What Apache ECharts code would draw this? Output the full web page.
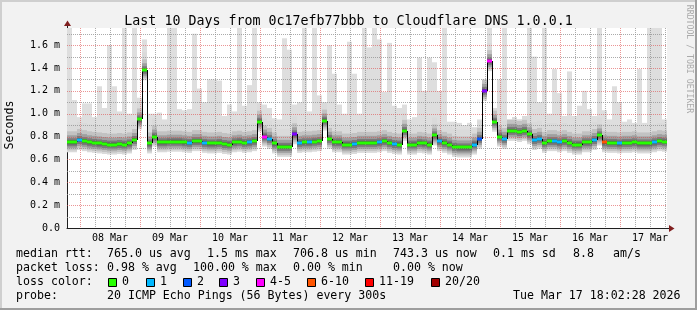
<!DOCTYPE html>
<html><head><meta charset="utf-8">
<script src="https://cdn.jsdelivr.net/npm/echarts@6/dist/echarts.min.js"></script>
<style>html,body{margin:0;padding:0;background:#F2F2F2}#c{width:697px;height:310px}</style>
</head><body><div id="c"></div>
<script>
// time axis: hours relative to 08 Mar 00:00, one bin = 2 hours
const startHour = -5.2;
const binHours = 2;
const nBins = 120;

// median RTT per bin (ms)
const medianMs = [
 0.75,0.75,0.77,0.76,0.75,0.745,0.74,0.735,0.73,0.73,
 0.735,0.73,0.74,0.77,0.95,1.38,0.74,0.80,0.75,0.75,
 0.755,0.755,0.755,0.75,0.745,0.76,0.76,0.745,0.74,0.74,
 0.745,0.735,0.73,0.75,0.755,0.745,0.75,0.76,0.93,0.80,
 0.78,0.74,0.71,0.71,0.71,0.82,0.745,0.75,0.75,0.755,
 0.76,0.94,0.78,0.75,0.75,0.73,0.73,0.735,0.745,0.745,
 0.745,0.745,0.75,0.76,0.745,0.735,0.73,0.85,0.73,0.73,
 0.745,0.74,0.73,0.81,0.76,0.745,0.73,0.71,0.705,0.705,
 0.705,0.73,0.78,1.20,1.46,0.93,0.80,0.78,0.85,0.85,
 0.84,0.85,0.82,0.77,0.78,0.745,0.76,0.76,0.75,0.76,
 0.745,0.73,0.73,0.75,0.75,0.77,0.81,0.75,0.745,0.745,
 0.74,0.745,0.745,0.75,0.74,0.74,0.74,0.75,0.76,0.755
];
// highest ping per bin (ms) - top of the light smoke
const maxMs = [
 1.75,1.12,0.97,1.09,1.09,0.97,1.24,1.05,1.60,1.24,
 1.02,1.75,1.00,1.75,1.14,1.65,1.00,1.00,1.01,0.95,
 1.75,1.75,1.04,1.03,1.04,1.70,1.22,1.10,1.30,1.30,
 1.29,0.98,1.08,1.02,1.75,1.07,1.25,1.75,1.10,1.08,
 1.05,0.96,0.95,1.66,1.56,1.08,1.10,1.75,1.02,1.75,
 1.16,1.10,1.60,1.35,1.08,1.00,1.63,1.35,1.00,1.75,
 1.58,1.75,1.65,1.19,1.62,1.07,1.05,1.08,0.95,0.97,
 1.49,1.20,1.49,1.45,1.20,1.75,0.93,0.93,0.92,0.90,
 0.92,0.88,0.95,1.30,1.75,1.05,1.30,1.75,0.95,0.97,
 0.95,0.98,1.75,1.50,1.10,1.75,1.00,1.39,1.18,0.98,
 1.37,0.98,1.07,1.20,1.04,0.98,1.75,1.03,0.95,1.24,
 1.10,0.93,0.95,0.92,1.39,0.92,1.75,1.75,1.75,0.95
];
// loss class per bin (index into lossColors)
const lossIdx = [
 0,0,1,0,0,0,0,0,0,0, 0,0,0,0,0,0,0,0,0,0,
 0,0,0,0,1,0,0,1,0,0, 0,0,0,0,0,0,1,0,0,4,
 1,0,0,0,0,3,1,0,1,0, 0,0,0,0,0,0,0,1,0,0,
 0,0,1,0,0,1,0,0,0,0, 0,0,0,0,1,0,0,0,0,0,
 0,1,2,3,4,0,0,1,0,0, 0,0,0,1,1,0,0,1,1,0,
 0,0,0,0,0,1,0,5,0,0, 1,0,0,0,0,0,0,1,0,0
];
const lossColors = ['#26ff00','#00b8ff','#0059ff','#7e00ff','#ff00ff','#ff5500','#ff0000','#a10000'];
const lossLabels = ['0','1','2','3','4-5','6-10','11-19','20/20'];
const dayLabels = ['08 Mar','09 Mar','10 Mar','11 Mar','12 Mar','13 Mar','14 Mar','15 Mar','16 Mar','17 Mar'];
const statLines = [
 [[16,'median rtt:'],[107,'765.0 us avg'],[207,'1.5 ms max'],[293,'706.8 us min'],[393,'743.3 us now'],[493,'0.1 ms sd'],[573,'8.8'],[613,'am/s']],
 [[16,'packet loss:'],[107,'0.98 % avg'],[193,'100.00 % max'],[293,'0.00 % min'],[393,'0.00 % now']],
 [[16,'loss color:']],
 [[16,'probe:'],[107,'20 ICMP Echo Pings (56 Bytes) every 300s'],[513,'Tue Mar 17 18:02:28 2026']]
];

const MONO = '"DejaVu Sans Mono", monospace';
const chart = echarts.init(document.getElementById('c'), null, {renderer:'canvas'});

const bins = medianMs.map((m,i)=>[startHour+i*binHours, startHour+(i+1)*binHours, m, maxMs[i], i>0?medianMs[i-1]:m, lossIdx[i]]);
const endHour = startHour + nBins*binHours;

const vGrid = [];
for (let h=0; h<=endHour; h+=6) vGrid.push([h, 0, h%24===0?1:0]);
const hGrid = [];
for (let k=1; k<=17; k++) hGrid.push([startHour, k/10, k%2===0?1:0]);

const MAJOR = 'rgba(222,79,79,0.6)', MINOR = 'rgba(143,143,143,0.75)';
const smokeLayers = [
 {up:18, down:10, color:'#dadada'},
 {up:11, down:8, color:'#c2c2c2'},
 {up:7, down:6, color:'#9f9f9f'},
 {up:4, down:4, color:'#7a7a7a'},
 {up:2, down:2, color:'#555555'}
];

const graphics = [
 {type:'rect', shape:{x:0,y:0,width:697,height:2}, style:{fill:'#CFCFCF'}, silent:true},
 {type:'rect', shape:{x:0,y:0,width:2,height:310}, style:{fill:'#CFCFCF'}, silent:true},
 {type:'rect', shape:{x:0,y:308,width:697,height:2}, style:{fill:'#9E9E9E'}, silent:true},
 {type:'rect', shape:{x:695,y:0,width:2,height:310}, style:{fill:'#9E9E9E'}, silent:true},
 {type:'text', x:689, y:59, rotation:-Math.PI/2, style:{text:'RRDTOOL / TOBI OETIKER', font:'8.2px '+MONO, fill:'#aaaaaa', align:'center', verticalAlign:'middle'}},
 {type:'text', x:10, y:125, rotation:Math.PI/2, style:{text:'Seconds', font:'11.6px '+MONO, fill:'#000', align:'center', verticalAlign:'middle'}},
 // axis extensions and arrows
 {type:'line', shape:{x1:67.5,y1:28,x2:67.5,y2:24}, style:{stroke:'#1F1F1F',lineWidth:1}},
 {type:'polygon', shape:{points:[[67.5,20.5],[64,26],[71,26]]}, style:{fill:'#801F1F'}},
 {type:'line', shape:{x1:667,y1:228.5,x2:670,y2:228.5}, style:{stroke:'#1F1F1F',lineWidth:1}},
 {type:'polygon', shape:{points:[[674.5,228.5],[669,225],[669,232]]}, style:{fill:'#801F1F'}}
];
const lineY = [254, 268, 282, 296];
statLines.forEach((parts, li)=>{
  parts.forEach(([x, t])=>graphics.push({type:'text', x:x, y:lineY[li], style:{text:t, font:'11.6px '+MONO, fill:'#000', align:'left', verticalAlign:'middle'}}));
});
const boxX = [108,146,183,219,256,307,365,431];
lossColors.forEach((c,i)=>{
  graphics.push({type:'rect', shape:{x:boxX[i]+0.5,y:278.5,width:8,height:8}, style:{fill:c, stroke:'#000', lineWidth:1}});
  graphics.push({type:'text', x:boxX[i]+14, y:282, style:{text:lossLabels[i], font:'11.6px '+MONO, fill:'#000', align:'left', verticalAlign:'middle'}});
});

chart.setOption({
  animation:false,
  backgroundColor:'#F2F2F2',
  title:{text:'Last 10 Days from 0c17efb77bbb to Cloudflare DNS 1.0.0.1', left:'center', top:10,
    textStyle:{fontFamily:MONO, fontSize:13.3, fontWeight:'normal', color:'#000'}},
  grid:{left:67, top:28, width:600, height:200, backgroundColor:'#FFFFFF', show:true, borderWidth:0},
  xAxis:{type:'value', min:startHour, max:endHour,
    axisLine:{show:true, onZero:false, lineStyle:{color:'#1F1F1F', width:1}},
    axisTick:{show:false}, splitLine:{show:false},
    axisLabel:{customValues:dayLabels.map((_,i)=>12+24*i), formatter:v=>dayLabels[Math.round((v-12)/24)]||'',
      fontFamily:MONO, fontSize:10, color:'#000', margin:5}},
  yAxis:{type:'value', min:0, max:1.75, interval:0.2,
    axisLine:{show:true, onZero:false, lineStyle:{color:'#1F1F1F', width:1}},
    axisTick:{show:false}, splitLine:{show:false},
    axisLabel:{formatter:v=>{const r=Math.round(v*10)/10; if(Math.abs(r-v)>1e-6||r>1.6) return ''; return r===0?'0.0':r.toFixed(1)+' m';},
      fontFamily:MONO, fontSize:10, color:'#000', margin:7}},
  graphic:graphics,
  series:[
    {type:'custom', name:'smoke', z:1, clip:true, data:bins, encode:{x:[0,1], y:[2,3]},
     renderItem:(params, api)=>{
       const t0=api.value(0), t1=api.value(1), m=api.value(2), mx=api.value(3);
       const a=api.coord([t0,m]), b=api.coord([t1,m]), c=api.coord([t0,mx]);
       const x0=Math.round(a[0]), x1=Math.round(b[0]), ym=a[1];
       const ch=[];
       if (c[1] < ym) ch.push({type:'rect', shape:{x:x0,y:c[1],width:x1-x0,height:ym-c[1]}, style:{fill:'#dedede'}});
       smokeLayers.forEach(L=>{
         const top = Math.max(ym-L.up, Math.min(c[1], ym));
         ch.push({type:'rect', shape:{x:x0,y:top,width:x1-x0,height:ym+L.down-top}, style:{fill:L.color}});
       });
       return {type:'group', children:ch};
     }},
    {type:'custom', name:'vgrid', z:2, silent:true, data:vGrid,
     renderItem:(params, api)=>{
       const cs=params.coordSys; const x=Math.round(api.coord([api.value(0),0])[0])+0.5;
       return {type:'line', shape:{x1:x,y1:cs.y,x2:x,y2:cs.y+cs.height},
         style:{stroke:api.value(2)?MAJOR:MINOR, lineWidth:1, lineDash:[1,1]}};
     }},
    {type:'custom', name:'hgrid', z:2, silent:true, data:hGrid,
     renderItem:(params, api)=>{
       const cs=params.coordSys; const y=Math.round(api.coord([startHour,api.value(1)])[1])+0.5;
       return {type:'line', shape:{x1:cs.x,y1:y,x2:cs.x+cs.width,y2:y},
         style:{stroke:api.value(2)?MAJOR:MINOR, lineWidth:1, lineDash:[1,1]}};
     }},
    {type:'custom', name:'median', z:3, clip:true, data:bins, encode:{x:[0,1], y:2},
     renderItem:(params, api)=>{
       const t0=api.value(0), t1=api.value(1), m=api.value(2), prev=api.value(4), li=api.value(5);
       const a=api.coord([t0,m]), b=api.coord([t1,m]), p=api.coord([t0,prev]);
       const x0=Math.round(a[0]), x1=Math.round(b[0]);
       const y=Math.round(a[1]), yp=Math.round(p[1]);
       return {type:'group', children:[
         {type:'line', shape:{x1:x0+0.5,y1:yp,x2:x0+0.5,y2:y}, style:{stroke:'#000', lineWidth:1}},
         {type:'rect', shape:{x:x0,y:y-1.5,width:x1-x0,height:3}, style:{fill:lossColors[li]}}
       ]};
     }}
  ]
});
</script></body></html>
